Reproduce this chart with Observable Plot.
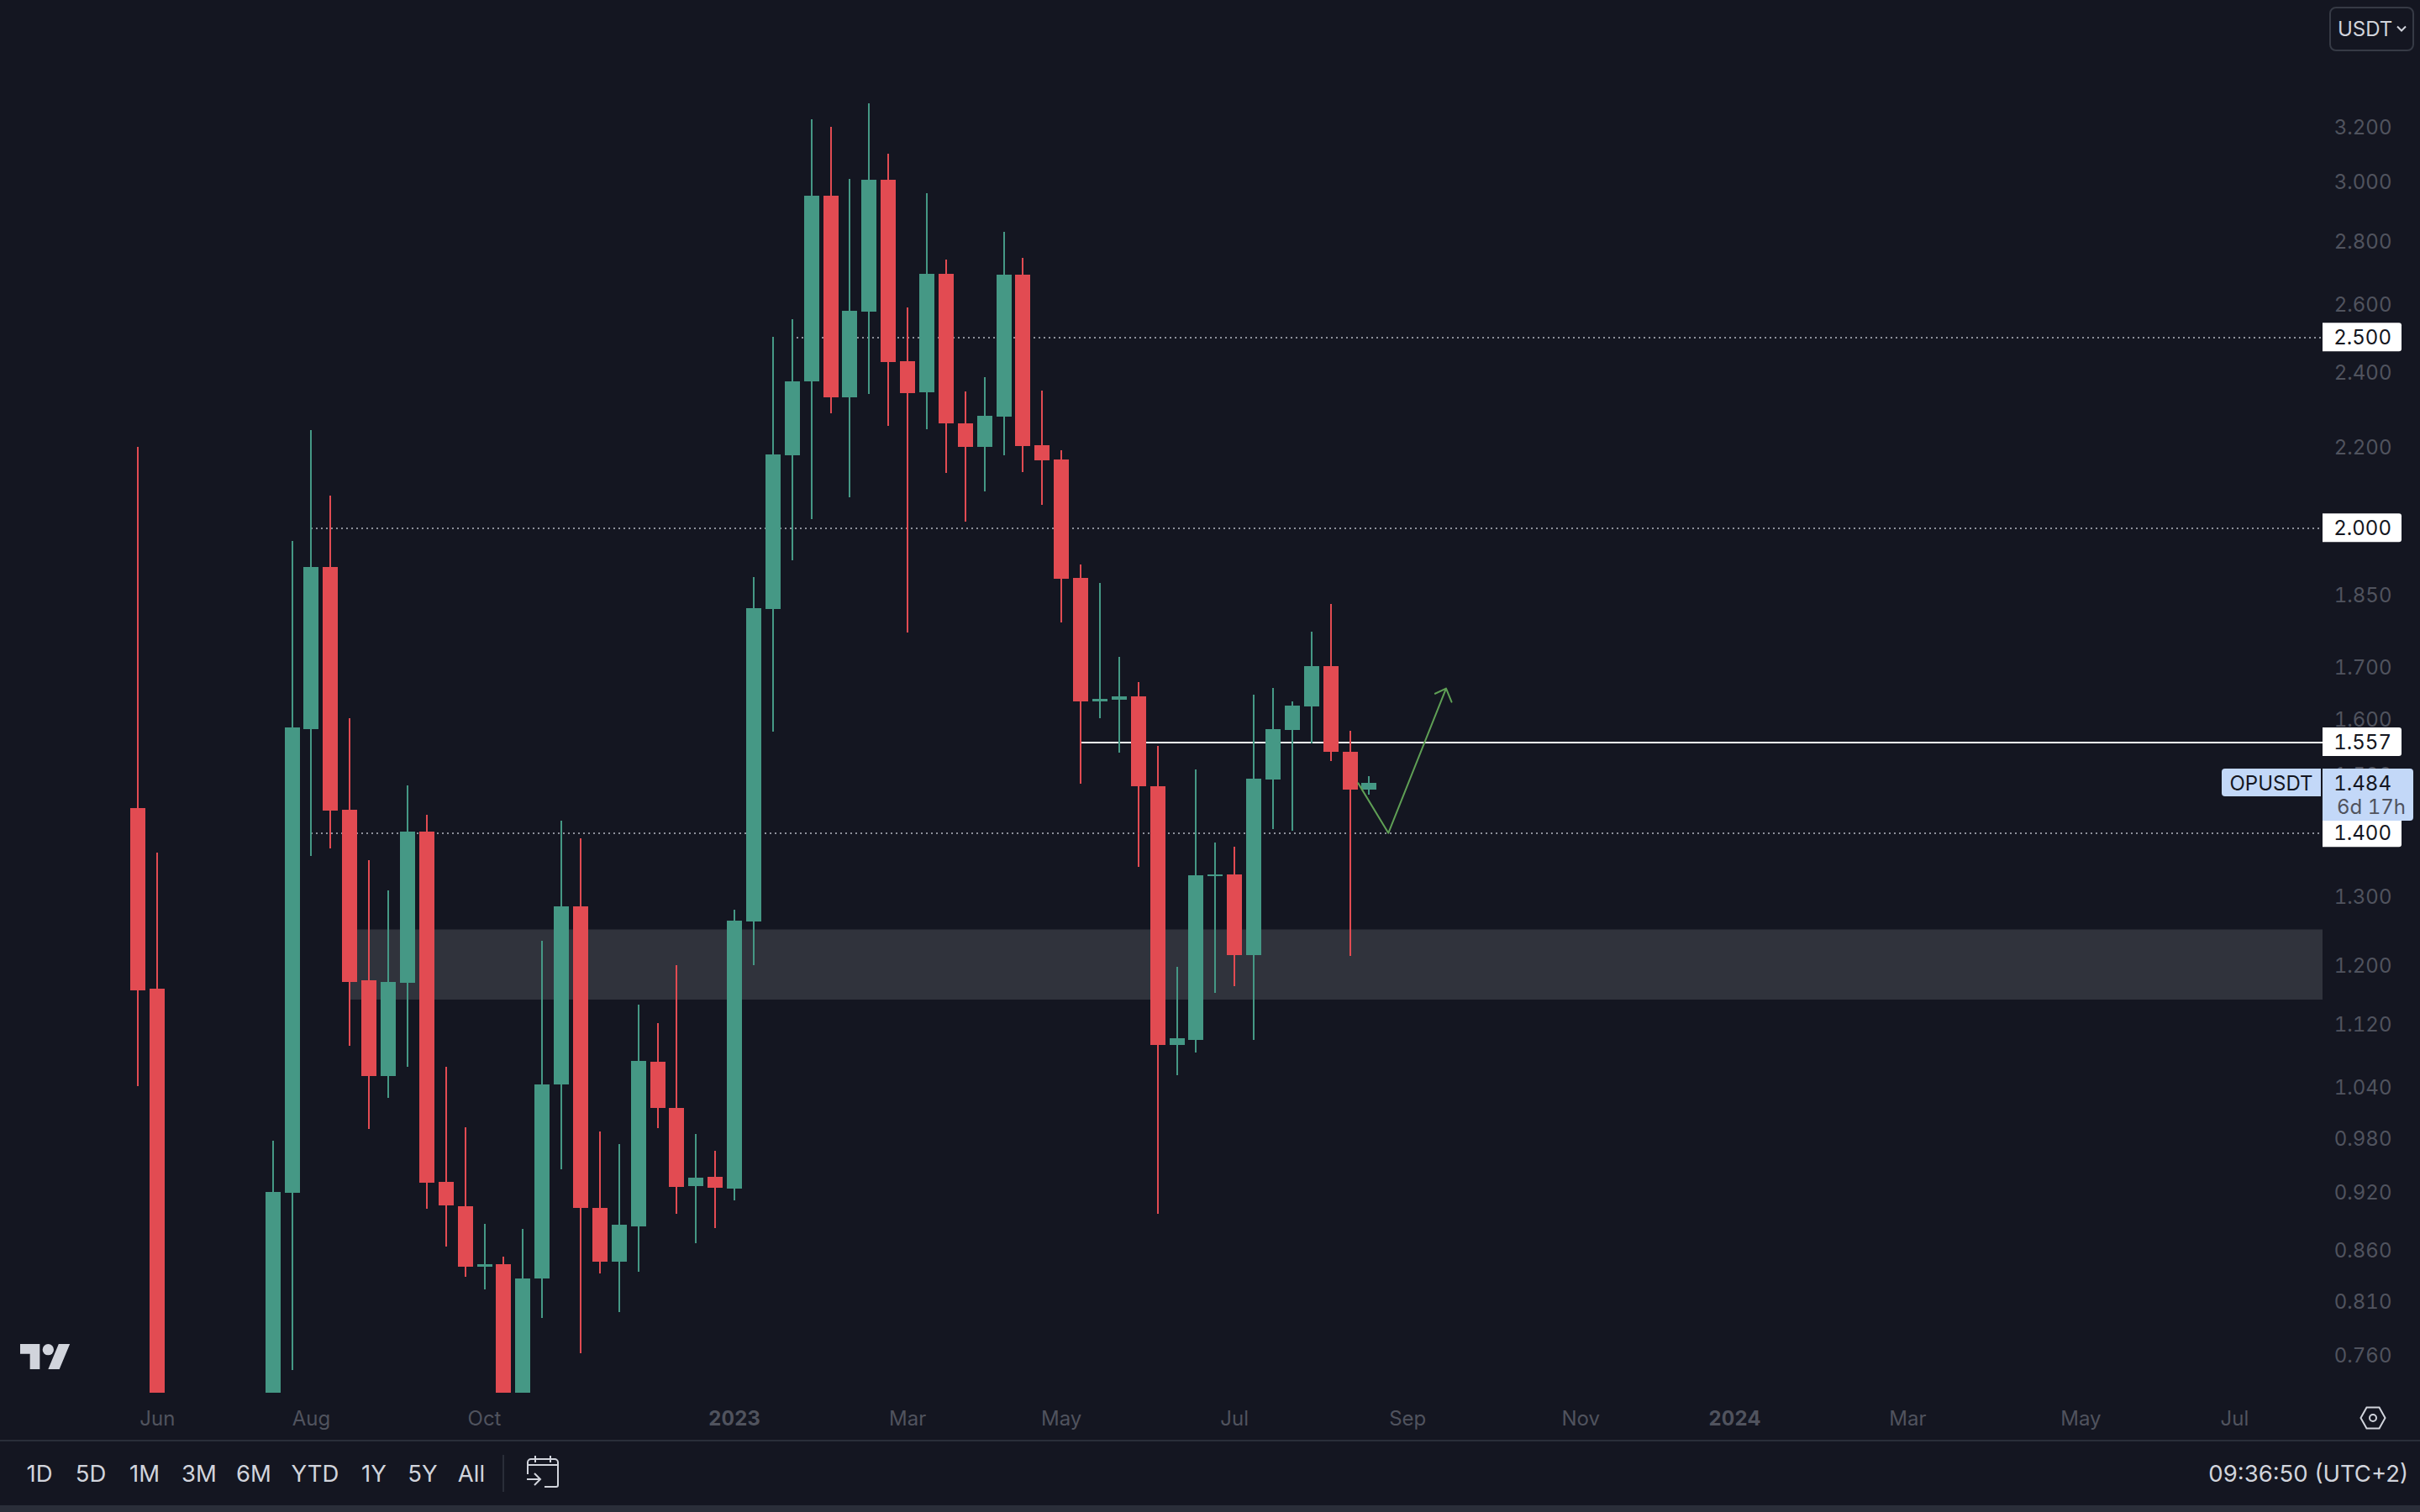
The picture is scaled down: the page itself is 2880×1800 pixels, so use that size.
<!DOCTYPE html>
<html><head><meta charset="utf-8">
<script src="https://cdn.jsdelivr.net/npm/d3@7"></script>
<script src="https://cdn.jsdelivr.net/npm/@observablehq/plot@0.6"></script>
<style>
html,body{margin:0;padding:0;background:#141621;}
body{width:2880px;height:1800px;position:relative;overflow:hidden;font-family:Inter,sans-serif;}
#chart svg{display:block;}
.abs{position:absolute;}
.tb{position:absolute;top:1716px;height:76px;line-height:76px;color:#d1d4dc;font-size:27.500px;transform:translateX(-50%);white-space:nowrap;}
</style></head><body>
<div id="chart"></div>
<div class="abs" style="left:0;top:1714px;width:2880px;height:2px;background:#2a2e39"></div>
<div class="abs" style="left:0;top:1792px;width:2880px;height:8px;background:#2a2e39"></div>
<div id="toolbar"></div>
<div class="abs" style="left:598px;top:1732px;width:2px;height:44px;background:#2a2e39"></div>
<svg class="abs" style="left:626px;top:1733px" width="40" height="38" viewBox="0 0 40 38" fill="none" stroke="#d1d4dc" stroke-width="2"><path d="M2 22V8a4 4 0 0 1 4-4h28a4 4 0 0 1 4 4v27a2 2 0 0 1-2 2H22M2 11h36M11 0v8M29 0v8M1 28h16M10 21l7 7-7 7"/></svg>
<div class="abs" style="right:14px;top:1716px;height:76px;line-height:76px;color:#d1d4dc;font-size:27.500px">09:36:50 (UTC+2)</div>
<svg class="abs" style="left:24px;top:1600px" width="60" height="30" viewBox="0 4 36 18"><path fill="#d1d4dc" d="M14 22H7V11H0V4h14v18zM28 22h-8l7.5-18h8L28 22z"/><circle fill="#d1d4dc" cx="20" cy="8" r="4"/></svg>
<svg class="abs" style="left:2808px;top:1674px" width="32" height="28" viewBox="0 0 32 28" fill="none" stroke="#d1d4dc" stroke-width="2"><path d="M1.500 14L8.500 1.500H23.500L30.500 14L23.500 26.500H8.500Z"/><circle cx="16" cy="14" r="4"/></svg>
<div class="abs" style="left:2772px;top:8px;width:97px;height:49px;border:2px solid #363a45;border-radius:8px;color:#d1d4dc;font-size:24px;line-height:49px;"><span style="margin-left:8px">USDT</span><svg style="position:absolute;left:78px;top:20px" width="12" height="9" viewBox="0 0 12 9" fill="none" stroke="#d1d4dc" stroke-width="2"><path d="M1 1.500L6 6.500L11 1.500"/></svg></div>
<script>
const dates = ["2022-05-30","2022-06-06","2022-07-18","2022-07-25","2022-08-01","2022-08-08","2022-08-15","2022-08-22","2022-08-29","2022-09-05","2022-09-12","2022-09-19","2022-09-26","2022-10-03","2022-10-10","2022-10-17","2022-10-24","2022-10-31","2022-11-07","2022-11-14","2022-11-21","2022-11-28","2022-12-05","2022-12-12","2022-12-19","2022-12-26","2023-01-02","2023-01-09","2023-01-16","2023-01-23","2023-01-30","2023-02-06","2023-02-13","2023-02-20","2023-02-27","2023-03-06","2023-03-13","2023-03-20","2023-03-27","2023-04-03","2023-04-10","2023-04-17","2023-04-24","2023-05-01","2023-05-08","2023-05-15","2023-05-22","2023-05-29","2023-06-05","2023-06-12","2023-06-19","2023-06-26","2023-07-03","2023-07-10","2023-07-17","2023-07-24","2023-07-31","2023-08-07","2023-08-14","2023-08-21"];
const opens = [1.4406,1.1663,0.69,0.9185,1.5804,1.9101,1.4378,1.1778,1.0530,1.1743,1.4016,0.9303,0.9042,0.8425,0.8450,0.70,0.8310,1.0422,1.2842,0.9024,0.8475,0.8831,1.0708,1.0144,0.9258,0.9358,0.9231,1.2617,1.8186,2.1769,2.3736,2.9493,2.3297,2.5752,3.0049,2.4302,2.3434,2.6917,2.2597,2.1984,2.2776,2.6890,2.2027,2.1662,1.8859,1.6322,1.6354,1.6419,1.4779,1.0920,1.0984,1.3304,1.3330,1.2130,1.4896,1.5786,1.6226,1.7010,1.5388,1.4721];
const highs = [2.1984,1.3675,0.9763,1.9692,2.2420,2.0766,1.6004,1.3555,1.3084,1.4794,1.4294,1.0644,0.9917,0.8857,0.8525,0.8805,1.2335,1.4196,1.3906,0.9869,0.9724,1.1447,1.1202,1.1988,0.9840,0.9648,1.2789,1.8878,2.5005,2.5528,3.2252,3.1967,3.0078,3.2860,3.0972,2.5879,2.9580,2.7370,2.3457,2.3853,2.8273,2.7424,2.3480,2.1898,1.9158,1.8748,1.7193,1.6695,1.5494,1.1965,1.5073,1.3838,1.3770,1.6451,1.6581,1.6322,1.7709,1.8293,1.5770,1.4955];
const lows = [1.0406,0.65,0.68,0.7465,1.3622,1.3743,1.0909,0.9898,1.0265,1.0644,0.9015,0.8625,0.8326,0.8204,0.68,0.68,0.7935,0.9442,0.7614,0.8359,0.7989,0.8375,0.9907,0.8962,0.8660,0.8814,0.9104,1.1988,1.5755,1.9252,2.0202,2.2865,2.0725,2.3388,2.2531,1.7692,2.2442,2.1324,2.0142,2.0869,2.1769,2.1345,2.0542,1.7902,1.4823,1.6004,1.5373,1.3449,0.8958,1.0541,1.0824,1.1604,1.1697,1.0984,1.4058,1.4029,1.5540,1.5222,1.2119,1.4635];
const closes = [1.1640,0.68,0.9194,1.5832,1.9101,1.4364,1.1755,1.0530,1.1755,1.4016,0.9294,0.9051,0.8425,0.8450,0.70,0.8310,1.0422,1.2842,0.9024,0.8475,0.8849,1.0718,1.0144,0.9249,0.9349,0.9240,1.2629,1.8203,2.1790,2.3736,2.9493,2.3297,2.5778,3.0049,2.4277,2.3415,2.6917,2.2597,2.1984,2.2798,2.6890,2.2005,2.1641,1.8839,1.6322,1.6370,1.6419,1.4779,1.0920,1.1006,1.3317,1.3330,1.2130,1.4911,1.5804,1.6242,1.7010,1.5388,1.4721,1.484];

const yTicks = [3.2,3.0,2.8,2.6,2.4,2.2,1.85,1.7,1.6,1.5,1.3,1.2,1.12,1.04,0.98,0.92,0.86,0.81,0.76];
const monthTicks = ["2022-06-06","2022-08-01","2022-10-03","2023-03-06","2023-05-01","2023-07-03","2023-09-04","2023-11-06","2024-03-04","2024-05-06","2024-07-01"];
const yearTicks = ["2023-01-02","2024-01-01"];

const levelPrices = [2.5,2.0,1.4];
const levelStarts = ["2023-01-23","2022-08-01","2022-08-01"];
const markedPrice = 1.557, markedStart = "2023-05-08";
const zoneTop = 1.25, zoneBottom = 1.1515, zoneStart = "2022-08-15";
const arrowDates = ["2023-08-17","2023-08-28","2023-09-18","2023-09-14","2023-09-18","2023-09-20"];
const arrowPrices = [1.484,1.40,1.658,1.648,1.658,1.632];

const rangeButtons = ["1D","5D","1M","3M","6M","YTD","1Y","5Y","All"];
const rangeCenters = [47,108,172,237,302,375,445,503,561];
rangeButtons.forEach((t,i)=>{const s=document.createElement("div");s.className="tb";s.style.left=rangeCenters[i]+"px";s.textContent=t;document.getElementById("toolbar").appendChild(s);});

const BG="#141621", GREEN="#459885", RED="#e24b52", AXIS="#50535e", DOT="#8d909a", ZONE="#30333c";
const D = s=>new Date(s+"T00:00:00Z");
const candles = dates.map((d,i)=>({date:D(d),open:opens[i],high:highs[i],low:lows[i],close:closes[i],color:closes[i]>=opens[i]?GREEN:RED}));
const xEnd = new Date("2024-08-02T03:00:00Z");
const levels = levelPrices.map((p,i)=>({price:p,start:D(levelStarts[i])}));
const arrow = arrowDates.map((d,i)=>({date:D(d),price:arrowPrices[i]}));

const whiteLabels = [2.5,2.0,1.557,1.4];
function priceLabels(index, scales, values, dim){
  const g = d3.create("svg:g").attr("font-family","Inter,sans-serif").attr("font-size",24).attr("font-variant","tabular-nums");
  const L = dim.width - dim.marginRight;
  const rr = (x,y,w,h,r)=>`M${x} ${y}H${x+w-r}a${r} ${r} 0 0 1 ${r} ${r}V${y+h-r}a${r} ${r} 0 0 1 ${-r} ${r}H${x}Z`;
  for(const p of whiteLabels){
    const y = scales.y(p);
    g.append("path").attr("d",rr(L,y-17,94,34,3)).attr("fill","#fff");
    g.append("text").attr("x",L+82).attr("y",y).attr("dy","0.36em").attr("text-anchor","end").attr("fill",BG).text(p.toFixed(3));
  }
  const y = scales.y(1.484), top = y-17;
  g.append("path").attr("d",rr(L,top,108,62,4)).attr("fill","#c3d8f8");
  g.append("path").attr("d",`M${L-2} ${top}V${top+33}H${L-116}a4 4 0 0 1 -4 -4V${top+4}a4 4 0 0 1 4 -4Z`).attr("fill","#c3d8f8");
  g.append("text").attr("x",L-61).attr("y",y).attr("dy","0.36em").attr("text-anchor","middle").attr("fill",BG).text("OPUSDT");
  g.append("text").attr("x",L+82).attr("y",y).attr("dy","0.36em").attr("text-anchor","end").attr("fill",BG).text((1.484).toFixed(3));
  g.append("text").attr("x",L+17).attr("y",y+28).attr("dy","0.36em").attr("text-anchor","start").attr("fill","#50535e").text("6d 17h");
  return g.node();
}

const plot = Plot.plot({
  width:2880, height:1714,
  marginLeft:0, marginRight:116, marginTop:0, marginBottom:56,
  style:{background:BG,fontFamily:"Inter,sans-serif",overflow:"visible"},
  x:{type:"utc",domain:[new Date("2022-04-09T20:24:00Z"),xEnd],axis:null},
  y:{type:"log",domain:[0.72695,3.7084],axis:null},
  color:{type:"identity"},
  marks:[
    Plot.rect([{x1:D(zoneStart),x2:xEnd,y1:zoneBottom,y2:zoneTop}],{x1:"x1",x2:"x2",y1:"y1",y2:"y2",fill:ZONE}),
    Plot.ruleY(levels,{y:"price",x1:"start",x2:()=>xEnd,stroke:DOT,strokeWidth:2,strokeDasharray:"2,4",shapeRendering:"crispEdges"}),
    Plot.ruleY([markedPrice],{x1:()=>D(markedStart),x2:()=>xEnd,stroke:"#ffffff",strokeWidth:2,shapeRendering:"crispEdges"}),
    Plot.ruleX(candles,{x:"date",y1:"low",y2:"high",stroke:"color",strokeWidth:2,clip:true,shapeRendering:"crispEdges"}),
    Plot.ruleX(candles,{x:"date",y1:"open",y2:"close",stroke:"color",strokeWidth:18,clip:true,shapeRendering:"crispEdges"}),
    Plot.line(arrow,{x:"date",y:"price",stroke:"#5f9f55",strokeWidth:2}),
    Plot.axisY({anchor:"right",ticks:yTicks,tickSize:0,tickPadding:82,textAnchor:"end",tickFormat:d3.format(".3f"),label:null,fontSize:24,dy:1.5,fill:AXIS}),
    Plot.axisX({anchor:"bottom",ticks:monthTicks.map(D),tickSize:0,tickPadding:21,tickFormat:d3.utcFormat("%b"),label:null,fontSize:24,fill:AXIS}),
    Plot.axisX({anchor:"bottom",ticks:yearTicks.map(D),tickSize:0,tickPadding:21,tickFormat:d3.utcFormat("%Y"),label:null,fontSize:24,fontWeight:700,fill:AXIS}),
    priceLabels
  ]
});
document.getElementById("chart").appendChild(plot);
</script>
</body></html>
